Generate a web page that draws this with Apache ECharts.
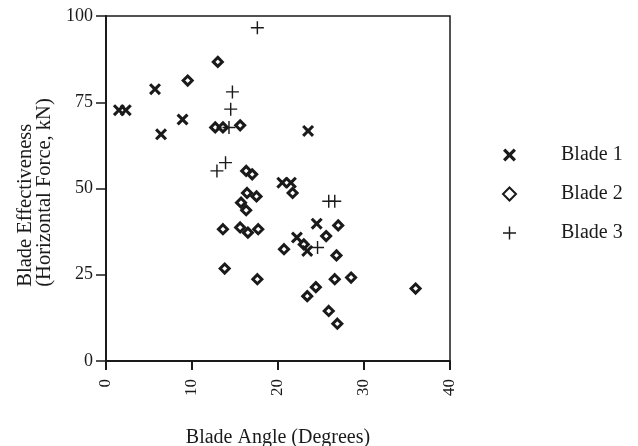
<!DOCTYPE html>
<html>
<head>
<meta charset="utf-8">
<script src="https://cdn.jsdelivr.net/npm/echarts@6/dist/echarts.min.js"></script>
<style>
  html, body { margin: 0; padding: 0; background: #fff; }
  #chart { width: 638px; height: 446px; }
</style>
</head>
<body>
<div id="chart"></div>
<script>
// [blade angle, effectiveness]
var blade1 = [
  [1.5, 72.7], [2.3, 72.7], [5.7, 78.8], [6.4, 65.7], [8.9, 70],
  [23.5, 66.7], [20.5, 51.7], [21.5, 51.7], [24.5, 39.8], [22.2, 35.8], [23.4, 31.9]
];
var blade2 = [
  [13.0, 86.7], [9.5, 81.3], [12.7, 67.7], [13.6, 67.7], [15.6, 68.3],
  [16.3, 55.1], [17.0, 54.1], [21.7, 48.7], [16.4, 48.7], [17.5, 47.7],
  [15.7, 45.9], [16.3, 43.7], [13.6, 38.2], [15.6, 38.7], [16.5, 37.2],
  [17.7, 38.2], [27.0, 39.3], [25.6, 36.2], [23.0, 33.8], [20.7, 32.4],
  [26.8, 30.6], [13.8, 26.8], [17.6, 23.7], [26.6, 23.7], [28.5, 24.2],
  [24.4, 21.4], [23.4, 18.8], [25.9, 14.5], [26.9, 10.8], [36.0, 21]
];
var blade3 = [
  [17.6, 96.6], [14.7, 78], [14.5, 73], [14.3, 67.7], [12.9, 55.1],
  [13.9, 57.5], [25.9, 46.3], [26.6, 46.3], [24.6, 32.9]
];
var seriesNames = ['Blade 1', 'Blade 2', 'Blade 3'];
var xTicks = [0, 10, 20, 30, 40];
var yTicks = [0, 25, 50, 75, 100];

var ink = '#1a1a1a';
var serif = 'Liberation Serif';
var crossPath = 'path://M0,3.6 L3.6,0 L10,6.4 L16.4,0 L20,3.6 L13.6,10 L20,16.4 L16.4,20 L10,13.6 L3.6,20 L0,16.4 L6.4,10 Z';
var plusPath = 'path://M0,8.9 L20,8.9 L20,11.1 L0,11.1 Z M8.9,0 L11.1,0 L11.1,20 L8.9,20 Z';

var chart = echarts.init(document.getElementById('chart'));
chart.setOption({
  animation: false,
  backgroundColor: '#fff',
  textStyle: { fontFamily: serif, color: ink },
  grid: {
    left: 106, right: 188, top: 16, bottom: 85,
    outerBoundsMode: 'none',
    show: true, borderColor: ink, borderWidth: 1.5
  },
  legend: {
    orient: 'vertical',
    left: 497, top: 140,
    itemGap: 19,
    itemWidth: 13, itemHeight: 13,
    data: seriesNames,
    textStyle: { fontFamily: serif, fontSize: 20, color: ink, padding: [0, 0, 0, 40] }
  },
  xAxis: {
    type: 'value', min: 0, max: 40, interval: 10,
    name: 'Blade Angle (Degrees)', nameLocation: 'middle', nameGap: 67,
    nameTextStyle: { fontFamily: serif, fontSize: 20, color: ink },
    axisLine: { onZero: false, lineStyle: { color: ink, width: 2 } },
    axisTick: { length: 9, lineStyle: { color: ink, width: 2 } },
    axisLabel: {
      rotate: 90, fontSize: 17, color: ink, margin: 18,
      formatter: function (v) { return xTicks.indexOf(v) >= 0 ? String(v) : ''; }
    },
    splitLine: { show: false }
  },
  yAxis: {
    type: 'value', min: 0, max: 100, interval: 25,
    name: '{a|Blade Effectiveness}\n{a|(Horizontal Force, kN)}',
    nameLocation: 'middle', nameGap: 51, nameRotate: 90,
    nameTextStyle: {
      fontFamily: serif, fontSize: 20.5, color: ink, lineHeight: 19,
      padding: [0, 8, 0, 0],
      rich: { a: { fontFamily: serif, fontSize: 20.5, color: ink, lineHeight: 19, align: 'left' } }
    },
    axisLine: { onZero: false, lineStyle: { color: ink, width: 2 } },
    axisTick: { length: 10, lineStyle: { color: ink, width: 1.5 } },
    axisLabel: {
      fontSize: 18, color: ink, margin: 13,
      formatter: function (v) { return yTicks.indexOf(v) >= 0 ? String(v) : ''; }
    },
    splitLine: { show: false }
  },
  series: [
    {
      name: seriesNames[0], type: 'scatter', data: blade1,
      symbol: crossPath, symbolSize: 12,
      itemStyle: { color: ink, opacity: 1 }
    },
    {
      name: seriesNames[1], type: 'scatter', data: blade2,
      symbol: 'diamond', symbolSize: 9,
      itemStyle: { color: 'rgba(255,255,255,0)', borderColor: ink, borderWidth: 3, opacity: 1 }
    },
    {
      name: seriesNames[2], type: 'scatter', data: blade3,
      symbol: plusPath, symbolSize: 13,
      itemStyle: { color: ink, opacity: 1 }
    }
  ]
});
</script>
</body>
</html>
